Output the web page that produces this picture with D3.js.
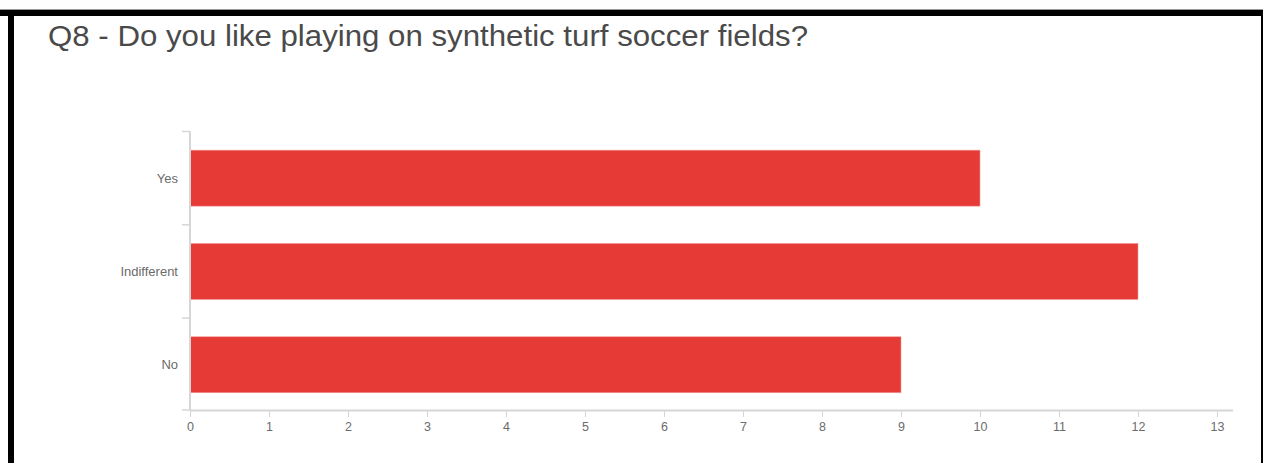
<!DOCTYPE html>
<html>
<head>
<meta charset="utf-8">
<script src="https://cdn.jsdelivr.net/npm/d3@7"></script>
<style>
  html, body { margin: 0; padding: 0; background: #fff; }
  svg { display: block; }
</style>
</head>
<body>
<svg id="chart" width="1263" height="463"></svg>
<script>
// Survey answers and response counts
const categories = ["Yes", "Indifferent", "No"];
const counts = [10, 12, 9];
const xTicks = [0, 1, 2, 3, 4, 5, 6, 7, 8, 9, 10, 11, 12, 13];
const title = "Q8 - Do you like playing on synthetic turf soccer fields?";

(function () {
  const svg = d3.select("#chart");
  const W = 1263, H = 463;

  // Frame around the panel
  svg.append("rect").attr("x", 0).attr("y", 9).attr("width", W).attr("height", 1).attr("fill", "#9a9a9a");
  svg.append("rect").attr("x", 0).attr("y", 10).attr("width", W).attr("height", 6).attr("fill", "#000");
  svg.append("rect").attr("x", 8).attr("y", 10).attr("width", 6).attr("height", H - 10).attr("fill", "#000");
  svg.append("rect").attr("x", 1261).attr("y", 10).attr("width", 2).attr("height", H - 10).attr("fill", "#000");

  // Title
  svg.append("text")
    .attr("x", 48).attr("y", 46)
    .attr("font-family", "Liberation Sans, Arial, sans-serif")
    .attr("font-size", 29)
    .attr("textLength", 760)
    .attr("lengthAdjust", "spacingAndGlyphs")
    .attr("fill", "#4a4a4a")
    .text(title);

  const plotLeft = 190, plotRight = 1233, plotTop = 131.5, plotBottom = 410;

  const x = d3.scaleLinear().domain([0, 13]).range([plotLeft, plotLeft + 79 * 13]);
  const y = d3.scaleBand().domain(categories).range([plotTop, plotTop + 93.3 * 3])
    .paddingInner(0.4).paddingOuter(0.2);
  const yBands = d3.scaleBand().domain(categories).range([plotTop, plotTop + 93.3 * 3]);

  const axisColor = "#d6d6d6";
  const labelColor = "#6b6b6b";
  const font = "Liberation Sans, Arial, sans-serif";

  // Bars
  svg.append("g").selectAll("rect")
    .data(categories)
    .join("rect")
    .attr("x", x(0))
    .attr("y", d => y(d))
    .attr("width", (d, i) => x(counts[i]) - x(0))
    .attr("height", y.bandwidth())
    .attr("fill", "#e63a37")
    .attr("stroke", "#f29a98")
    .attr("stroke-width", 0.6);

  // X axis
  const xAxis = svg.append("g")
    .attr("transform", `translate(0,${plotBottom})`)
    .call(d3.axisBottom(x).tickValues(xTicks).tickSize(7).tickPadding(5).tickFormat(d3.format("d")));
  xAxis.select(".domain").remove();
  xAxis.append("line").attr("x1", plotLeft).attr("x2", plotRight).attr("y1", 0.5).attr("y2", 0.5)
    .attr("stroke", axisColor).attr("stroke-width", 2);
  xAxis.selectAll(".tick line").attr("stroke", axisColor).attr("y1", 1);
  xAxis.selectAll(".tick text")
    .attr("fill", labelColor).attr("font-family", font).attr("font-size", 12.5);

  // Y axis: line with tick marks at band boundaries
  const yAxis = svg.append("g");
  yAxis.append("line").attr("x1", plotLeft).attr("x2", plotLeft).attr("y1", plotTop).attr("y2", plotBottom)
    .attr("stroke", axisColor).attr("stroke-width", 2);
  const boundaries = categories.map(c => yBands(c)).concat([plotBottom]);
  yAxis.selectAll("line.tk")
    .data(boundaries)
    .join("line")
    .attr("class", "tk")
    .attr("x1", plotLeft - 8).attr("x2", plotLeft)
    .attr("y1", d => d).attr("y2", d => d)
    .attr("stroke", axisColor).attr("stroke-width", 1.5);
  yAxis.selectAll("text")
    .data(categories)
    .join("text")
    .attr("x", plotLeft - 12)
    .attr("y", d => y(d) + y.bandwidth() / 2)
    .attr("dy", "0.35em")
    .attr("text-anchor", "end")
    .attr("fill", labelColor)
    .attr("font-family", font)
    .attr("font-size", 13)
    .text(d => d);
})();
</script>
</body>
</html>
